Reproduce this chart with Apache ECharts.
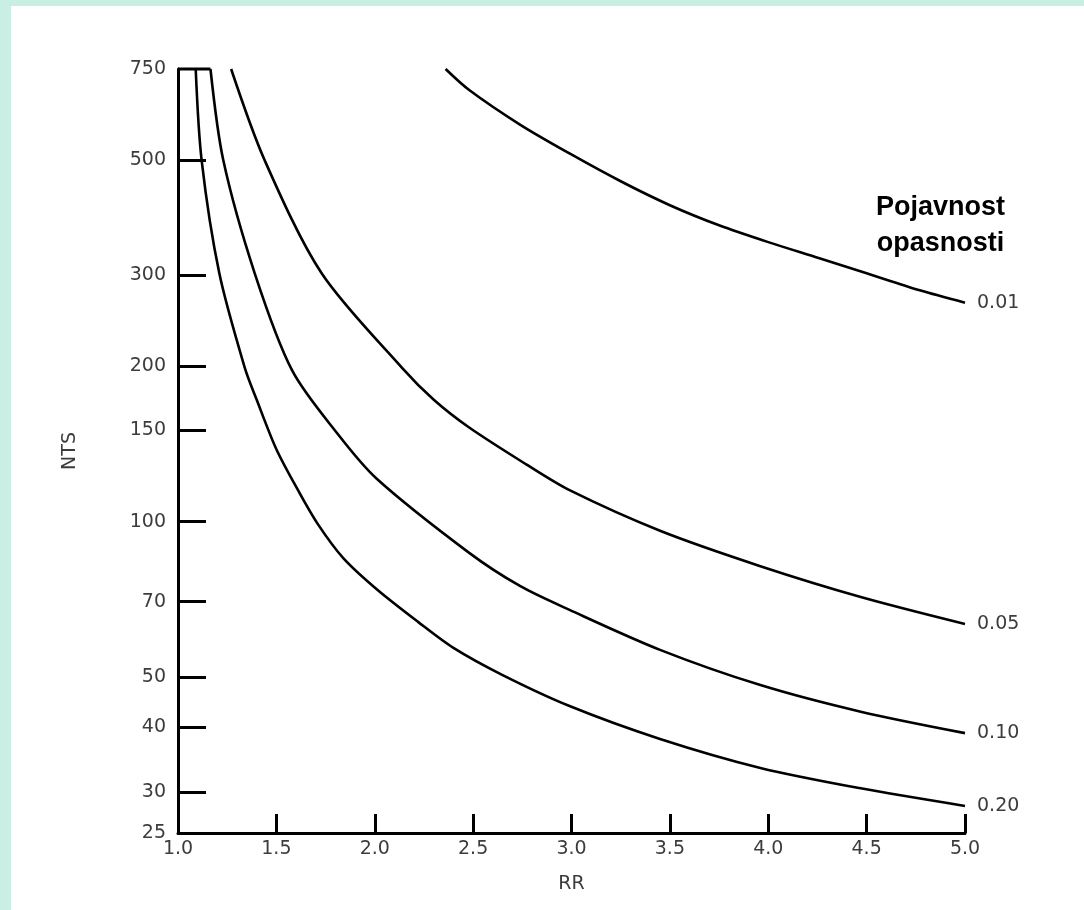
<!DOCTYPE html>
<html>
<head>
<meta charset="utf-8">
<script src="https://cdn.jsdelivr.net/npm/echarts@6/dist/echarts.min.js"></script>
<style>html,body{margin:0;padding:0;background:#fff}#c{width:1084px;height:910px}</style>
</head>
<body>
<div id="c"></div>
<script>
// ---- data ----
const xTicks = [1.0, 1.5, 2.0, 2.5, 3.0, 3.5, 4.0, 4.5, 5.0];
const yLabels = [25, 30, 40, 50, 70, 100, 150, 200, 300, 500, 750];
const yTickMarks = [30, 40, 50, 70, 100, 150, 200, 300, 500];

const rr020 = [1.09, 1.12, 1.21, 1.34, 1.40, 1.50, 1.61, 1.71, 1.84, 2.01, 2.22, 2.40, 2.65, 2.99, 3.45, 3.96, 4.47, 5.0];
const nts020 = [750, 500, 302, 198, 172, 138, 115, 99, 85, 74, 64, 57, 50.5, 44, 38, 33.4, 30.5, 28.2];

const rr010 = [1.165, 1.23, 1.39, 1.58, 1.81, 2.01, 2.48, 2.74, 2.99, 3.45, 3.96, 4.47, 5.0];
const nts010 = [750, 500, 302, 196, 148, 121, 87, 75, 67.5, 56.5, 48.3, 42.9, 39];

const rr005 = [1.27, 1.44, 1.73, 2.14, 2.30, 2.48, 2.77, 2.99, 3.45, 3.96, 4.47, 5.0];
const nts005 = [750, 500, 302, 198, 172, 152, 129, 115, 96, 82, 71.5, 63.4];

const rr001 = [2.36, 2.48, 2.74, 2.99, 3.25, 3.50, 3.75, 4.00, 4.26, 4.50, 4.77, 5.0];
const nts001 = [750, 683, 585, 515, 455, 409, 374, 347, 323, 302, 280, 265];

const topRR = [1.0, 1.165];
const topNTS = [750, 750];

const seriesNames = ['0.20', '0.10', '0.05', '0.01'];
// ---------------------------------------

const zip = (a, b) => a.map((v, i) => [v, b[i]]);
const labelFont = 'DejaVu Sans';
const txt = '#3c3c3c';

function curve(name, xs, ys) {
  return {
    type: 'line', name: name, data: zip(xs, ys),
    showSymbol: false, smooth: 0.3,
    lineStyle: { color: '#000', width: 2.6 },
    clip: false,
    endLabel: { show: true, formatter: name, distance: 12, color: txt, fontFamily: labelFont, fontSize: 19 }
  };
}

const chart = echarts.init(document.getElementById('c'), null, { renderer: 'canvas' });
chart.setOption({
  animation: false,
  backgroundColor: '#c9efe4',
  graphic: [
    { type: 'rect', z: -10, shape: { x: 11, y: 6, width: 1073, height: 904 }, style: { fill: '#ffffff' } },
    { type: 'text', z: 10, left: 876, top: 190,
      style: { text: 'Pojavnost\nopasnosti', fill: '#000', font: 'bold 27px "Liberation Sans", Arial, sans-serif', textAlign: 'center', lineHeight: 36, x: 0, y: 0 } }
  ],
  grid: { left: 178, right: 119, top: 69, bottom: 77, containLabel: false },
  xAxis: {
    type: 'value', min: 1, max: 5, interval: 0.5,
    name: 'RR', nameLocation: 'middle', nameGap: 42,
    nameTextStyle: { color: txt, fontFamily: labelFont, fontSize: 19 },
    axisLine: { show: true, lineStyle: { color: '#000', width: 3 } },
    axisTick: { show: true, inside: true, length: 19, lineStyle: { color: '#000', width: 3 }, customValues: xTicks },
    axisLabel: { margin: 7, color: txt, fontFamily: labelFont, fontSize: 19, formatter: v => v.toFixed(1), customValues: xTicks },
    splitLine: { show: false }
  },
  yAxis: {
    type: 'log', logBase: 10, min: 25, max: 750,
    name: 'NTS', nameLocation: 'middle', nameGap: 98, nameRotate: 90,
    nameTextStyle: { color: txt, fontFamily: labelFont, fontSize: 19 },
    axisLine: { show: true, onZero: false, lineStyle: { color: '#000', width: 3 } },
    axisTick: { show: true, inside: true, length: 28, lineStyle: { color: '#000', width: 3 }, customValues: yTickMarks },
    axisLabel: { margin: 12, color: txt, fontFamily: labelFont, fontSize: 19, customValues: yLabels },
    minorTick: { show: false },
    splitLine: { show: false }
  },
  series: [
    curve(seriesNames[0], rr020, nts020),
    curve(seriesNames[1], rr010, nts010),
    curve(seriesNames[2], rr005, nts005),
    curve(seriesNames[3], rr001, nts001),
    { type: 'line', name: 'top', data: zip(topRR, topNTS), showSymbol: false, clip: false,
      lineStyle: { color: '#000', width: 3 } }
  ]
});
</script>
</body>
</html>
